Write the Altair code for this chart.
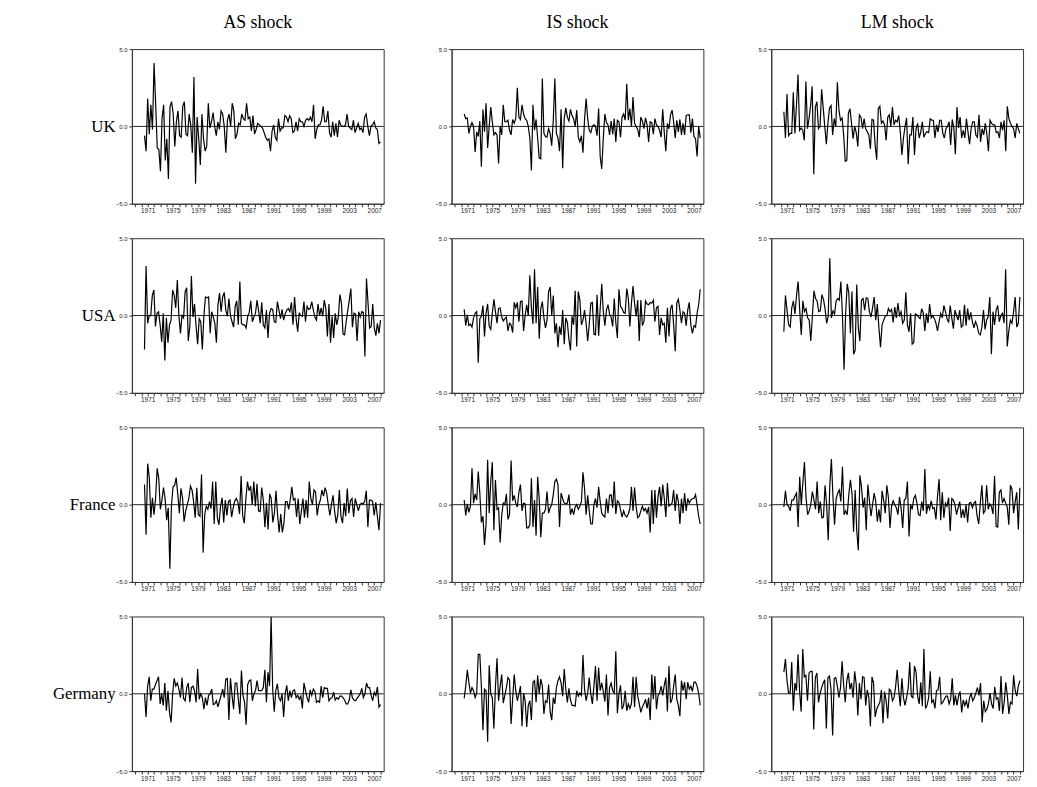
import altair as alt
import pandas as pd

countries = ["UK", "USA", "France", "Germany"]
shocks = ["AS shock", "IS shock", "LM shock"]
y_ticks = [-5, -2.5, 0, 2.5, 5]
x_ticks = list(range(1969, 2009))

UK_AS = [-0.6,-1.6,1.8,-0.5,1.4,-0.2,4.1,1.4,-1.4,-1.5,
-2.9,0.5,1.4,-2.2,-0.8,-3.4,1.3,1.6,0.8,-1.3,
0.3,1.0,-0.6,-0.7,1.3,1.6,-0.5,-0.6,0.8,0.1,
-1.7,3.2,-3.7,0.6,-0.8,-2.5,0.8,-0.8,-1.6,-1.3,
1.5,-0.1,0.3,0.9,0.0,-0.6,0.3,-0.2,1.0,0.8,
0.0,-1.7,0.4,0.8,0.0,1.5,1.0,-0.8,-0.5,0.2,
0.1,0.8,0.5,0.4,1.5,0.5,0.6,-0.3,0.7,-0.5,
-0.2,0.2,0.1,0.0,-0.1,-0.4,-0.7,-0.9,-0.8,-1.6,
-0.3,0.1,-0.7,-0.9,0.5,-0.3,-0.1,-0.1,0.7,0.6,
0.3,0.7,0.5,-0.4,-0.3,0.3,-0.3,0.5,0.3,0.3,
0.0,0.4,0.5,0.4,0.6,0.3,1.4,-0.8,-0.2,0.1,
0.1,0.4,1.3,0.3,0.3,1.0,-0.4,-0.7,0.3,-0.6,
0.2,-0.7,0.4,0.1,0.0,0.0,0.1,0.8,0.0,-0.1,
-0.2,0.4,-0.4,-0.1,0.2,-0.2,-0.1,-0.4,0.6,0.8,
0.0,-0.6,0.0,0.1,0.3,-0.1,-0.2,-1.1,-1.0]

UK_IS = [0.8,0.5,0.55,-0.45,0,0.25,0,-1.65,-0.35,-0.65,
0.35,-2.6,1.1,-0.35,1.5,-1.4,0,1.25,0.3,-0.55,
-0.4,-0.55,-2.4,0,-0.55,1.4,0.3,0.3,0.4,-0.25,
-0.55,0.45,0.2,0.5,2.5,0.6,0.45,1.4,0.8,0.5,
0.4,0,-0.75,-2.85,1.4,-0.25,0.45,-0.75,-2.05,-2.1,
3.1,-0.45,-0.65,-0.7,-0.15,-0.45,-1.25,0.4,3.1,-0.45,
-0.75,-1.6,1.1,-2.7,0.5,1.2,0.6,0.35,1.1,0.7,
0.5,0,1.05,-0.7,-1.0,-0.6,-1.7,0.45,1.8,0.5,
-0.25,-0.4,0,0.1,0,-0.6,1.15,-1.95,-2.75,-0.75,
0.8,0.25,0.1,-0.55,0.35,-0.5,0.5,-1.0,0.4,0.3,
-0.7,0.6,0.8,0.4,2.75,0.4,1.15,0,1.9,0.2,
0,-0.2,-0.7,0.6,0.35,-0.15,0.55,0.1,-1.0,0.3,
0.25,-0.5,0.5,0.1,0,-0.25,-0.7,1.1,-0.4,-1.6,
0.2,-0.15,0.75,1.05,0.3,-0.75,0.4,-0.35,0.45,-0.55,
0.2,-0.55,0.7,0.75,0.75,-0.4,0.5,-0.65,-0.8,-1.95,
0,-0.75]

UK_LM = [0.95,-0.75,2.1,-0.6,-0.45,-0.45,2.2,-0.45,1.35,3.35,
-0.25,-0.1,-0.25,-0.9,2.9,-0.15,0.5,1.35,2.6,-3.1,
1.25,1.6,-0.15,0,2.4,1.2,0,-1.15,0.2,1.2,
1.35,-0.55,0.5,0,2.85,1.05,0.4,0.55,-0.55,-2.25,
-2.2,0.85,1.15,0.2,-0.8,0,-0.4,-1.3,0.75,0.6,
-0.15,0.5,-0.15,-0.35,-0.55,-1.45,0.45,0.4,-1.2,-2.15,
1.15,1.3,0.2,0.35,0.1,-0.9,0.6,0.75,0,1.25,
0.1,0.4,0.3,0.7,-0.35,-1.85,-0.75,0,0.55,-2.45,
-0.55,-0.55,0.6,-1.85,-0.15,0.2,-0.75,-0.35,0.3,-0.7,
-0.45,-0.35,-0.4,0.5,0.4,0.4,-0.75,0.1,-0.35,0.4,
0.4,-0.45,-0.75,-0.15,0,0.3,-1.2,0.45,-0.1,-1.8,
1.25,-0.1,0.6,-0.75,-0.25,-0.75,0.5,-0.35,-1.15,-0.15,
0.3,0.3,-0.55,-0.7,0.75,-1.0,-0.15,-0.55,0.2,-0.5,
-1.6,0.4,0.2,0.1,0.1,-0.4,-0.35,-0.75,0.3,-0.25,
0.4,-1.6,1.3,0.5,0.2,0,-0.15,-0.75,0.2,-0.15,
-0.45]

USA_AS = [-2.2,3.2,-0.5,0,0,1.3,1.65,-0.7,0.15,0.25,
-0.6,-1.7,0.15,-2.9,-0.15,-1.75,-0.6,-0.3,1.65,1.3,
0.5,2.3,0,-1.15,0,-0.15,1.55,1.8,-1.65,-0.7,
2.55,-0.1,0.75,-0.7,-1.85,-0.2,-0.4,-2.2,0,1.2,
1.15,1.2,-1.15,0.25,-0.1,-0.5,-1.75,0.7,1.45,0.25,
1.2,1.5,0.35,-0.05,1.1,0,-0.4,-0.75,0.6,0.95,
-0.6,2.2,-0.5,-0.6,-0.6,-0.8,-0.05,0.2,0.95,-0.4,
-0.1,0.15,1.0,0.3,-0.5,0.85,-0.6,-0.8,0.35,-1.45,
0.15,0.45,0.4,-0.4,-0.45,0.9,0.35,-0.2,0.4,-0.3,
0.1,0.35,0.45,0.25,0.85,-0.6,1.2,-0.2,-1.05,0.15,
0,-0.05,0.9,-0.4,0.6,0.4,0.45,0.9,0.35,-0.1,
-0.3,0.75,0,0.5,-0.05,1.0,0.45,-1.35,0.75,-1.75,
-0.05,-1.45,0.15,-0.6,-0.1,1.35,0.8,-1.2,-1.25,-0.4,
0.3,1.0,1.75,-0.75,0.15,0.1,-1.65,0.25,-0.1,0.25,
0.2,-2.65,2.4,0.8,-0.8,-0.7,0.75,-0.8,-1.3,-0.5,
-1.15,-0.3]

USA_IS = [0.4,-0.65,0.05,-0.65,-0.55,-0.75,-0.15,0.15,0.25,-3.05,
-0.2,-0.05,0.65,-1.35,0.15,0.75,-0.7,-0.9,0.15,1.05,
0.25,-0.5,0.45,0.5,-0.1,-0.35,-0.2,-0.1,-1.0,-0.5,
-0.6,-1.1,0.85,0.5,0.85,-0.4,0.9,0.95,-1.0,0,
0.7,0,2.6,0.5,-0.55,3.0,-0.5,1.85,-1.5,0.45,
0.9,-0.15,-0.8,-0.3,1.55,1.85,0,1.3,-1.15,-0.5,
-2.05,-0.7,-1.25,0.35,-1.85,-0.15,-0.45,-1.55,-2.25,-0.05,
-0.6,1.6,-2.0,1.55,1.0,-0.6,-0.3,0.35,-0.5,-1.65,
-0.6,0.8,0.85,-1.2,-1.25,1.35,-1.3,0.45,2.05,0.25,
-0.65,0.35,0.7,0.1,-0.1,-0.7,1.1,-0.45,-1.45,1.7,
0.6,0.45,0.2,0.15,1.75,1.1,-0.7,0.8,1.9,0.8,
-0.05,1.0,-1.65,1.0,-0.65,-0.4,0.95,0.75,0.7,0.85,
0.8,1.0,-0.4,0.5,0.6,-1.25,-0.15,-0.6,-0.5,-1.75,
0.5,-1.35,0.45,0.7,-0.6,-2.3,0.8,1.05,0.35,-0.5,
0.25,0.15,-0.65,0.35,0.85,-0.6,-1.15,-0.65,-0.75,0.15,
0.7,1.7]

USA_LM = [-1.05,1.3,0.35,-0.6,-0.75,0.5,0.95,0.1,1.3,2.2,
0.35,-1.25,0.95,0.25,0.45,-0.15,-0.3,-1.65,-0.05,1.6,
1.1,0.95,0.25,0.3,1.35,1.05,0.45,-0.5,-0.05,3.7,
-0.15,0.3,0.1,0.95,1.1,1.0,2.2,0,-3.5,0.15,
2.05,1.45,-1.15,1.55,-2.5,-2.25,2.0,-0.8,-1.65,1.0,
1.1,0.35,1.15,1.1,0.25,-0.1,0.5,1.2,-0.3,0.75,
-0.8,-2.05,-0.6,-0.3,-0.05,0,0.45,0.25,0.4,-0.45,
0.55,-0.15,0.8,0,0.25,-0.5,-0.3,1.5,-0.6,-1.05,
0.15,-1.85,-1.75,0.1,0.05,-0.1,-0.2,0.45,0.15,-1.0,
0.15,-0.5,0.75,-0.15,0,-0.2,-0.5,-1.0,-0.4,0.15,
-0.15,0.65,0.25,-0.2,-0.45,0.65,-0.15,-0.85,0.35,0,
-0.3,0.35,-0.75,-0.65,0.7,-0.65,0.45,-0.3,0.2,-0.4,
-0.8,-0.4,-0.65,-1.15,-1.25,-0.75,0.35,-0.9,-0.3,-0.05,
1.2,-2.5,0.25,-0.6,0.35,0.65,-0.4,0,0.15,-0.5,
3.0,-2.0,-1.0,-0.3,-0.5,0.25,1.2,-0.75,-0.5,1.2]

FR_AS = [1.3,-1.95,2.65,1.8,-0.85,0.45,-0.65,0.4,2.35,1.7,
-0.3,0.3,1.1,0.4,-1.0,-0.2,-4.15,-0.1,1.15,1.25,
1.75,0.7,-0.55,1.05,0.45,-1.1,-0.4,0,0.4,1.2,
0.95,0.2,-0.85,1.1,-0.65,-0.75,1.95,-3.1,-0.65,-0.1,
-0.3,0.2,-0.25,1.5,-1.25,1.5,-0.85,-1.3,-0.1,0.45,
-1.15,0.3,-0.7,0.2,0.3,-0.8,-0.2,0.25,0.4,0.15,
-0.6,1.85,-0.75,-1.2,0.4,1.5,0.9,1.2,0,1.5,
-0.1,1.35,-0.4,-0.45,1.1,0.3,-1.45,0.1,-1.6,0.7,
0.4,-1.15,-0.55,0.9,-0.65,-1.8,-0.6,-1.8,-1.2,0.2,
0.2,-0.3,0.3,1.15,0.3,0.4,-0.8,0.4,-1.25,-0.45,
0.4,-0.85,0.3,-0.85,1.5,0.4,0,0.95,0.8,-0.7,
0,0.3,0.95,0.55,1.1,0.75,0,-0.7,0,0.6,
-0.4,-1.2,-0.65,0.95,-0.75,-1.2,0.1,-0.75,1.05,-0.55,
0.25,0.4,-0.8,0.4,0,-0.4,0,0.1,0.05,0.2,
0.9,-1.45,0.3,0.3,0.2,-0.7,0.15,-0.75,-1.65,0.1]

FR_IS = [0.3,-0.7,0.05,-0.5,-0.1,2.35,0.1,0.7,0.3,2.15,
0.75,-1.15,-0.75,-2.6,-1.25,2.9,-0.55,1.5,2.75,-1.65,
1.6,-0.3,-0.2,-2.45,-0.7,0.1,0,0.7,-0.95,-0.65,
2.85,0.25,0.6,0.1,-0.15,0.8,1.3,-0.4,0.1,0.05,
-1.5,-1.5,-1.3,1.7,-1.45,0.3,-2.0,1.8,0.4,-2.1,
-0.55,-0.55,-0.3,0.85,-0.55,-0.2,0,0.65,1.5,1.65,
1.3,-1.45,0.75,0.4,0.1,0.05,0.1,0.65,-0.65,-0.25,
-0.65,-0.15,0,-0.3,-0.1,0.2,2.1,1.05,-0.65,0.6,
-0.4,-1.25,-1.25,0,0.4,-0.2,1.15,0.2,-0.55,-0.7,
-0.8,0.4,-0.55,0.6,0.65,-0.2,1.5,-0.6,0.25,0.15,
-0.3,-0.8,-0.4,-0.7,-0.8,-0.6,-0.25,1.15,-0.4,1.1,
-0.15,-0.85,-0.75,-0.4,-0.1,-0.4,-0.25,-0.55,-0.15,-1.8,
0.95,-1.25,0.95,-0.85,0.5,1.15,-0.1,1.3,0.4,-0.8,
1.4,-0.1,0,0.1,0.95,-0.4,0.7,0.2,-1.25,0.4,
-0.55,0.75,-0.4,0.4,0.1,0.3,0.4,0.4,0.65,0,
-0.75,-1.25]

FR_LM = [-0.15,0.9,0,-0.1,-0.4,0.3,0.3,0.55,0.75,-1.45,
1.8,0,1.45,2.75,0.45,-0.65,-0.4,0,0.85,0.3,
-0.3,1.5,-0.55,0.2,-0.85,-0.8,1.25,0,-2.3,1.25,
2.95,0.5,-1.3,0.4,0.75,0.95,0.2,2.45,-0.65,-0.4,
-0.65,0.65,1.6,0.75,-1.75,0.95,-1.65,-2.95,1.9,1.15,
-0.2,0.45,-1.65,1.3,0.25,-0.75,0,0.75,0.2,-1.1,
-0.3,-1.15,0.9,0.3,-0.55,1.25,0.45,-1.5,-0.1,0.25,
0,-0.2,-0.65,0.5,-0.2,-1.5,0.3,0.4,1.5,-2.05,
0,-0.3,0.4,0.6,0.1,-0.65,-0.7,0.2,-0.4,2.3,
-0.6,0,-0.3,0.25,-0.25,-0.2,-0.95,0.55,1.65,-1.0,
0.8,-0.85,0.1,-0.1,0.45,-1.7,0.4,0.3,0,-0.65,
-0.2,0.2,-0.85,-0.3,-0.85,0,-1.15,0.1,0.15,-0.2,
0.1,0.2,-0.75,-1.25,0.1,1.25,-0.55,-0.4,1.25,-0.3,
0.05,-0.1,-0.6,1.85,-1.4,-1.45,0.8,0.95,0.1,0.4,
0.1,-0.15,-1.3,1.25,1.0,-0.55,0.2,0.8,-1.6,1.1]

DE_AS = [0,-1.5,0.5,1.1,-0.45,0.3,0.3,0.6,0.85,1.1,
-0.65,0,-0.75,0.7,-1.1,0.2,-1.2,-1.85,0,1.0,
0.5,0.7,0.3,-0.25,1.05,-0.3,-0.45,0.4,0.7,-0.55,
0.4,0.5,0.2,-0.55,1.6,-0.35,0,-0.25,-1.0,-0.25,
-0.75,-0.1,0,0.3,-0.7,-0.65,-0.45,-0.85,-0.45,-0.1,
0.3,-0.25,0.95,1.0,-1.7,1.0,-0.1,-1.0,0.7,0.7,
-0.35,-1.3,1.5,-0.1,-0.55,-2.0,0.6,0.85,0.9,-0.45,
0,0.2,0.85,0.2,0.2,0.2,0.4,1.55,-0.55,1.4,
0.5,5.0,0.3,-1.15,0.2,0.65,-0.25,-0.45,0,-1.5,
0,0.55,-0.45,0.2,-0.25,0.2,0.25,-0.25,-0.1,-0.35,
-0.15,-0.95,0.7,0.2,-0.25,-0.55,0.25,-0.1,0.3,0.15,
-0.55,-0.45,-0.55,0.5,-0.25,0.4,0.35,0.35,-0.45,-0.3,
-0.25,0.1,-0.4,-0.25,-0.35,-0.15,-0.15,-0.25,-0.4,-0.65,
-0.65,-0.4,0.25,-0.25,-0.4,-0.45,-0.3,-0.15,0,0.35,
-0.25,0,0.7,0.4,0.4,-0.1,-0.45,0.1,-0.1,0.45,
-0.85,-0.7]

DE_IS = [-0.3,0.5,1.55,0.75,0.05,0.4,0.2,-0.25,0.05,2.55,
2.55,0.5,-2.35,0.3,0.2,-3.1,1.85,0,-0.25,-2.25,
0.45,2.3,-0.45,0.5,1.25,-0.6,-0.1,0.4,1.05,0.9,
-1.95,-0.35,1.25,0.2,-0.45,0,0.5,-2.1,0.05,-0.45,
-2.15,-0.75,-0.45,-1.7,0.75,0.85,-0.55,1.2,0,0.95,
0.5,-1.3,-0.45,-0.55,0.6,-1.15,-1.7,-0.25,-0.65,0.4,
0.85,1.1,0.7,-0.15,1.6,0.3,-0.55,0.35,-0.4,-0.75,
-0.75,-0.8,0.2,-0.15,0.05,-0.1,2.5,0.3,-0.45,0.05,
1.05,0,-0.65,0.5,1.8,-0.45,1.7,0.2,0.7,0.15,
-0.5,1.25,-1.4,0.4,0.7,0.2,0.05,2.75,-1.25,0,
0.55,-1.0,-0.75,0.2,-1.1,-0.65,-0.95,-0.65,1.1,-0.85,
1.1,-0.15,-0.65,-1.2,-0.85,-0.65,-0.35,-0.95,-0.25,-1.7,
1.25,-0.35,1.15,-1.0,-0.1,0.05,0.5,-0.1,0.55,1.05,
-1.15,1.8,-0.6,-0.35,0.5,1.25,-0.35,-0.75,-1.45,0.85,
0.2,0.75,-0.35,0.75,0.3,0.5,0.15,0.75,0.75,0.5,
0.05,-0.75]

DE_LM = [1.4,2.25,0.85,0.05,0.05,2.05,-1.1,0.7,0.2,2.55,
0.2,-1.15,2.9,1.1,1.2,-0.45,1.35,1.45,1.45,-2.3,
1.05,1.35,-0.55,0,0.4,0.7,0.9,-2.25,1.05,1.15,
0.25,-2.7,1.0,1.05,0.5,-0.25,0.4,2.1,0.55,-0.55,
0.85,1.35,0.3,0.7,-0.25,1.45,0.6,-1.4,0.7,-0.35,
1.1,1.05,-0.75,0.25,-0.25,-2.1,1.1,0.7,-1.5,-1.0,
-0.75,-0.55,0.25,-1.9,0.15,-0.45,-1.6,0.3,0.2,-0.45,
-0.25,0.45,1.55,0.2,-0.8,1.0,-0.25,-0.75,-0.25,0.35,
2.05,-0.15,-0.25,1.8,1.4,-0.15,-0.65,0.75,-0.8,2.9,
-0.95,-0.75,-0.25,1.45,-0.55,-0.4,-0.95,0.2,0.25,1.1,
-0.65,-0.55,-0.35,-0.15,-0.15,-0.65,-0.35,1.0,-0.75,-0.1,
-0.75,-0.15,0.15,-1.2,-0.4,-0.75,-0.45,-0.95,-0.25,0,
-0.45,-0.25,0.05,0.4,-0.1,0.7,-1.85,-0.45,-1.15,-1.0,
-0.65,0.05,-0.65,-0.95,0.45,-0.35,-0.25,-1.1,1.15,-1.3,
-0.55,0.75,-0.1,-1.3,-0.55,-0.65,1.2,0.2,-0.15,0.5,
0.85]

series = {
    ("UK", "AS shock"): UK_AS, ("UK", "IS shock"): UK_IS, ("UK", "LM shock"): UK_LM,
    ("USA", "AS shock"): USA_AS, ("USA", "IS shock"): USA_IS, ("USA", "LM shock"): USA_LM,
    ("France", "AS shock"): FR_AS, ("France", "IS shock"): FR_IS, ("France", "LM shock"): FR_LM,
    ("Germany", "AS shock"): DE_AS, ("Germany", "IS shock"): DE_IS, ("Germany", "LM shock"): DE_LM,
}

START, END = 1970.5, 2008.0
records = []
for (c, s), vals in series.items():
    n = len(vals)
    for i, v in enumerate(vals):
        records.append({"country": c, "shock": s, "t": START + i * (END - START) / (n - 1), "v": v})
df = pd.DataFrame(records)
zero_df = pd.DataFrame({"z": [0.0]})

W, H = 254, 156
TICK_FONT = "Liberation Sans"
SERIF = "Liberation Serif"


def panel(c, s, first_col, first_row):
    d = df[(df.country == c) & (df.shock == s)]
    x_enc = alt.X(
        "t:Q",
        scale=alt.Scale(domain=[1968.5, 2008.5], nice=False, zero=False),
        axis=alt.Axis(
            values=x_ticks,
            labelExpr="datum.value % 4 == 3 ? datum.value : ''",
            labelOverlap=False, grid=False, tickSize=3, labelFontSize=6.5,
            labelPadding=1, title=None, labelFont=TICK_FONT, labelFlush=False,
            domainColor="#333", tickColor="#333", labelColor="#222",
        ),
    )
    if first_col:
        y_axis = alt.Axis(
            values=y_ticks, format=".1f", grid=False, tickSize=3, labelFontSize=6,
            labelFont=TICK_FONT, labelPadding=2, domainColor="#333", tickColor="#333",
            labelColor="#222", title=c, titleAngle=0, titleAlign="right",
            titleBaseline="middle", titleX=-17, titleY=H / 2, titleFont=SERIF,
            titleFontSize=17, titleFontWeight="normal", titleColor="black",
        )
    else:
        y_axis = alt.Axis(
            values=y_ticks, format=".1f", grid=False, tickSize=3, labelFontSize=6,
            labelFont=TICK_FONT, labelPadding=2, domainColor="#333", tickColor="#333",
            labelColor="#222", title=None,
        )
    y_enc = alt.Y("v:Q", scale=alt.Scale(domain=[-5, 5], nice=False), axis=y_axis)
    line = alt.Chart(d).mark_line(color="black", strokeWidth=1.2, clip=True).encode(x=x_enc, y=y_enc)
    zero = alt.Chart(zero_df).mark_rule(color="#222", strokeWidth=1).encode(y=alt.Y("z:Q"))
    ch = alt.layer(zero, line).properties(width=W, height=H)
    if first_row:
        ch = ch.properties(title=alt.TitleParams(
            s, font=SERIF, fontSize=18, fontWeight="normal", color="black",
            offset=14, anchor="middle"))
    return ch


panels = []
for i, c in enumerate(countries):
    for j, s in enumerate(shocks):
        panels.append(panel(c, s, j == 0, i == 0))

chart = alt.concat(
    *panels, columns=3, bounds="flush",
    spacing=alt.RowColnumber(row=34.8, column=68.5),
).properties(
    padding={"left": 44, "top": 2, "right": 5, "bottom": 5}
).configure_view(stroke="#333", strokeWidth=1)

chart.save("out.html", embed_options={"renderer": "svg", "actions": False})
